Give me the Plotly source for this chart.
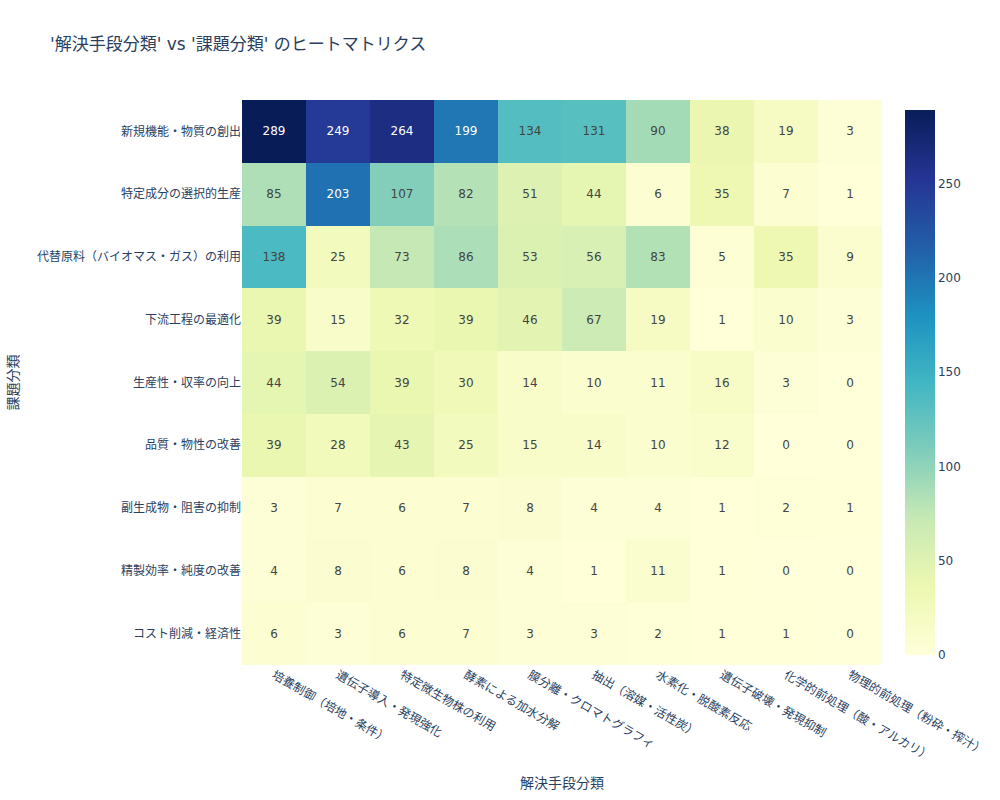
import plotly.graph_objects as go

# 解決手段 (columns) and 課題 (rows)
solutions = [
    "培養制御（培地・条件）",
    "遺伝子導入・発現強化",
    "特定微生物株の利用",
    "酵素による加水分解",
    "膜分離・クロマトグラフィ",
    "抽出（溶媒・活性炭）",
    "水素化・脱酸素反応",
    "遺伝子破壊・発現抑制",
    "化学的前処理（酸・アルカリ）",
    "物理的前処理（粉砕・搾汁）",
]

issues = [
    "新規機能・物質の創出",
    "特定成分の選択的生産",
    "代替原料（バイオマス・ガス）の利用",
    "下流工程の最適化",
    "生産性・収率の向上",
    "品質・物性の改善",
    "副生成物・阻害の抑制",
    "精製効率・純度の改善",
    "コスト削減・経済性",
]

counts = [
    [289, 249, 264, 199, 134, 131, 90, 38, 19, 3],
    [85, 203, 107, 82, 51, 44, 6, 35, 7, 1],
    [138, 25, 73, 86, 53, 56, 83, 5, 35, 9],
    [39, 15, 32, 39, 46, 67, 19, 1, 10, 3],
    [44, 54, 39, 30, 14, 10, 11, 16, 3, 0],
    [39, 28, 43, 25, 15, 14, 10, 12, 0, 0],
    [3, 7, 6, 7, 8, 4, 4, 1, 2, 1],
    [4, 8, 6, 8, 4, 1, 11, 1, 0, 0],
    [6, 3, 6, 7, 3, 3, 2, 1, 1, 0],
]

fig = go.Figure(
    go.Heatmap(
        z=counts,
        x=solutions,
        y=issues,
        colorscale="YlGnBu",
        texttemplate="%{z}",
        colorbar=dict(thickness=30, len=1, outlinewidth=0),
    )
)

fig.update_layout(
    width=1000,
    height=800,
    title=dict(text="'解決手段分類' vs '課題分類' のヒートマトリクス", x=0.05),
    font=dict(family="DejaVu Sans, Noto Sans CJK JP", color="#2a3f5f"),
    plot_bgcolor="white",
    paper_bgcolor="white",
    margin=dict(t=100, r=80, b=80, l=80),
    xaxis=dict(title="解決手段分類", tickangle=30, showgrid=False),
    yaxis=dict(title="課題分類", autorange="reversed", showgrid=False),
)

# drop the default page margin so the figure sits at the window's corner
fig.write_html(
    "out.html",
    config={"displayModeBar": False},
    post_script="document.body.style.margin='0';",
)
